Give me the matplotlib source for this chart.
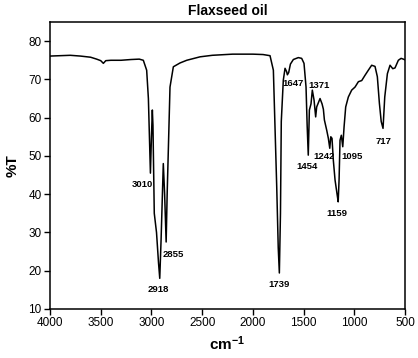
import matplotlib
matplotlib.use("Agg")
import matplotlib.pyplot as plt

plt.rcParams['font.family'] = ['Liberation Sans', 'DejaVu Sans']
plt.rcParams['mathtext.fontset'] = 'custom'
plt.rcParams['mathtext.rm'] = 'Liberation Sans'
plt.rcParams['mathtext.bf'] = 'Liberation Sans:bold'

# FTIR spectrum of flaxseed oil
wavenumber = [4000, 3900, 3800, 3700, 3600, 3540, 3500, 3474, 3450, 3400, 3300,
              3200, 3120, 3080, 3047, 3030, 3010, 3000, 2991, 2985, 2972, 2950,
              2930, 2918, 2905, 2883, 2870, 2855, 2845, 2817, 2784, 2718, 2652,
              2521, 2400, 2200, 2000, 1900, 1831, 1798, 1765, 1750, 1739, 1728,
              1720, 1700, 1683, 1667, 1660, 1647, 1630, 1601, 1552, 1519, 1496,
              1476, 1465, 1454, 1443, 1427, 1414, 1397, 1381, 1371, 1338, 1318,
              1305, 1295, 1272, 1256, 1242, 1232, 1220, 1207, 1190, 1170, 1159,
              1150, 1141, 1128, 1114, 1101, 1085, 1059, 1026, 993, 960, 927,
              894, 862, 829, 796, 773, 753, 735, 717, 700, 674, 648, 621, 599,
              566, 539, 517, 500]
transmittance = [76.1, 76.2, 76.3, 76.1, 75.8, 75.3, 74.9, 74.2, 74.9, 75.0, 75.0,
                 75.2, 75.3, 75.0, 72.4, 65.0, 45.5, 55.0, 62.0, 58.0, 35.0, 30.0,
                 22.0, 18.0, 28.0, 48.0, 40.0, 27.5, 40.0, 68.0, 73.3, 74.3, 75.0,
                 75.9, 76.3, 76.6, 76.6, 76.5, 76.2, 72.4, 42.0, 26.0, 19.4, 35.0,
                 59.0, 69.8, 72.9, 72.0, 71.2, 71.8, 74.0, 75.2, 75.7, 75.5, 74.2,
                 68.0, 58.0, 50.2, 62.0, 63.6, 67.2, 64.6, 60.2, 62.8, 65.0, 63.6,
                 62.2, 59.4, 56.7, 54.6, 52.0, 55.0, 54.6, 48.9, 43.7, 40.0, 38.0,
                 44.0, 54.1, 55.4, 52.4, 57.6, 62.8, 65.4, 67.2, 68.0, 69.4, 69.7,
                 71.1, 72.4, 73.7, 73.4, 70.7, 63.8, 59.0, 57.2, 65.4, 71.5, 73.7,
                 72.8, 73.0, 75.0, 75.5, 75.3, 75.1]

# peak labels: text, x, y (data coords of label centre)
peak_labels = ['3010', '2918', '2855', '1739', '1647', '1371', '1454',
               '1242', '1095', '1159', '717']
peak_x = [3090, 2935, 2787, 1740, 1601, 1348, 1469, 1296, 1022, 1174, 712]
peak_y = [42.4, 15.2, 24.3, 16.3, 68.9, 68.3, 47.2, 49.8, 49.8, 35.0, 53.9]

fig = plt.figure(figsize=(4.18, 3.58), dpi=100)
ax = fig.add_axes([0.1196, 0.137, 0.8494, 0.8015])

ax.plot(wavenumber, transmittance, color='black', lw=1.1)

for lab, x, y in zip(peak_labels, peak_x, peak_y):
    ax.text(x, y, lab, ha='center', va='center', fontsize=6.8,
            fontweight='bold')

ax.set_xlim(4000, 500)
ax.set_ylim(10, 85)
ax.set_xticks([4000, 3500, 3000, 2500, 2000, 1500, 1000, 500])
ax.set_yticks([10, 20, 30, 40, 50, 60, 70, 80])
ax.tick_params(direction='out', length=4, width=1, labelsize=8.5, pad=2)
for s in ax.spines.values():
    s.set_linewidth(1.1)

ax.set_title('Flaxseed oil', fontsize=10, fontweight='bold', pad=5)
ax.set_ylabel('%T', fontsize=11, fontweight='bold', labelpad=6)
ax.set_xlabel(r'$\mathbf{cm^{-1}}$', fontsize=11, labelpad=4)

fig.savefig('out.png', dpi=100)
